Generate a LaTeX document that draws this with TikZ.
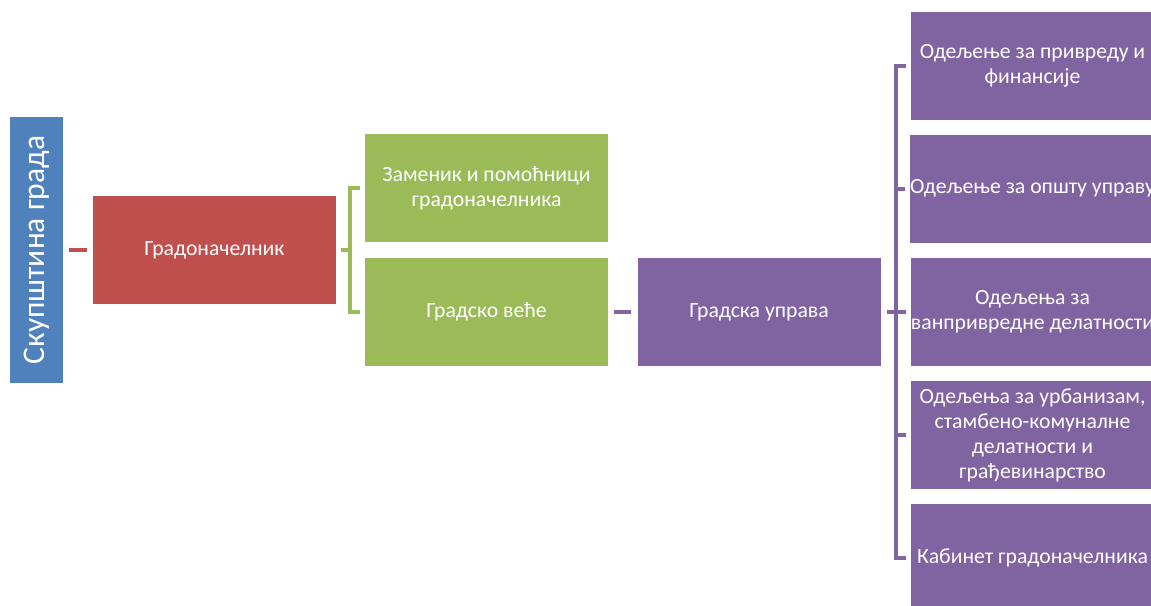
\documentclass[tikz,border=0pt]{standalone}
\usepackage{fontspec}
\setmainfont{Carlito}
\definecolor{skblue}{HTML}{4F81BD}
\definecolor{skred}{HTML}{C0504D}
\definecolor{skgreen}{HTML}{9BBB59}
\definecolor{skpurple}{HTML}{8064A2}
\tikzset{
  orgbox/.style={minimum width=243pt, minimum height=108pt, inner sep=0pt,
    text=white, align=center, font=\fontsize{21.7}{25}\selectfont},
  link/.style={line width=4pt}
}
\begin{document}
\begin{tikzpicture}[x=1pt, y=-1pt]
\useasboundingbox (0,0) rectangle (1151,605);
% top level
\node[orgbox, fill=skblue, rotate=90, minimum width=266pt, minimum height=53pt,
  font=\fontsize{31.5}{36}\selectfont] (skupstina) at (36.5, 250) {Скупштина града};
\node[orgbox, fill=skred] (gradonacelnik) at (214.5, 250) {Градоначелник};
\draw[link, skred] ([xshift=6pt]skupstina.south) -- ([xshift=-6pt]gradonacelnik.west);

% second level
\node[orgbox, fill=skgreen] (zamenik) at (486.5, 188) {Заменик и помоћници\\градоначелника};
\node[orgbox, fill=skgreen] (vece) at (486.5, 312) {Градско веће};
\draw[link, skgreen] ([xshift=5pt]gradonacelnik.east) -- ++(10,0);
\draw[link, skgreen] ([xshift=-5pt]zamenik.west) -- ++(-10,0) |- ([xshift=-5pt]vece.west);

% city administration
\node[orgbox, fill=skpurple] (uprava) at (759, 312) {Градска управа};
\draw[link, skpurple] ([xshift=6pt]vece.east) -- ([xshift=-6pt]uprava.west);

\node[orgbox, fill=skpurple] (od1) at (1032.5, 66) {Одељење за привреду и\\финансије};
\node[orgbox, fill=skpurple] (od2) at (1032.5, 188.5) {Одељење за општу управу};
\node[orgbox, fill=skpurple] (od3) at (1032.5, 312) {Одељења за\\ванпривредне делатности};
\node[orgbox, fill=skpurple] (od4) at (1032.5, 435) {Одељења за урбанизам,\\стамбено-комуналне\\делатности и\\грађевинарство};
\node[orgbox, fill=skpurple] (od5) at (1032.5, 558) {Кабинет градоначелника};
\draw[link, skpurple] ([xshift=6pt]uprava.east) -- ++(11,0);
\draw[link, skpurple] ([xshift=-5pt]od1.west) -- ++(-10,0) |- ([xshift=-5pt]od5.west);
\foreach \n in {od2,od3,od4}
  \draw[link, skpurple] ([xshift=-5pt]\n.west) -- ++(-10,0);
\end{tikzpicture}
\end{document}
